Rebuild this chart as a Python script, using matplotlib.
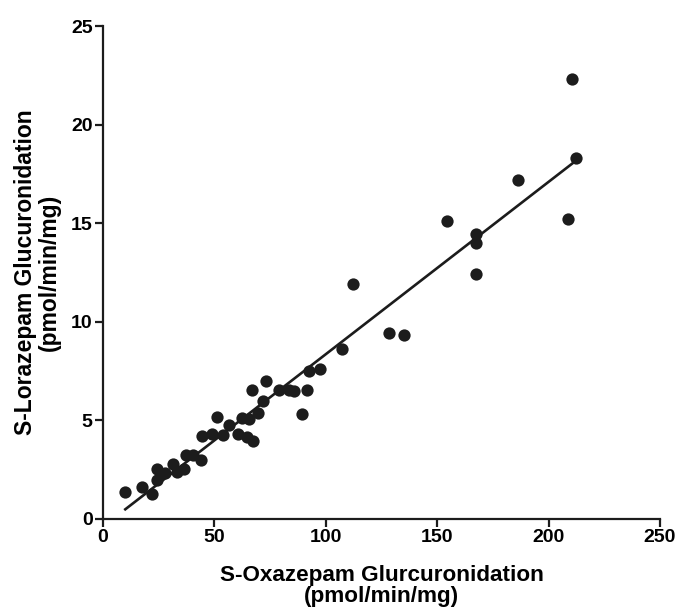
import matplotlib
matplotlib.use('Agg')
import matplotlib.pyplot as plt
import numpy as np

plt.rcParams['font.family'] = ['Liberation Sans', 'DejaVu Sans']
plt.rcParams['font.weight'] = 'bold'

# S-Oxazepam vs S-Lorazepam glucuronidation (pmol/min/mg)
oxazepam = [10.0, 17.6, 22.1, 24.1, 24.4, 27.8, 31.6, 33.1, 36.4, 37.3,
            40.5, 44.0, 44.3, 49.1, 51.3, 54.0, 56.7, 60.4, 62.2, 64.5,
            65.5, 67.5, 66.7, 69.7, 71.9, 73.0, 79.0, 83.3, 85.7, 89.2,
            91.7, 92.6, 97.4, 107.3, 112.3, 128.4, 135.2, 154.4, 167.4, 167.4,
            167.4, 186.4, 208.6, 210.6, 212.4]
lorazepam = [1.35, 1.62, 1.25, 1.98, 2.54, 2.32, 2.79, 2.40, 2.55, 3.25,
             3.25, 2.99, 4.20, 4.31, 5.19, 4.28, 4.77, 4.31, 5.10, 4.18,
             5.06, 3.97, 6.54, 5.36, 6.00, 7.00, 6.54, 6.54, 6.50, 5.32,
             6.54, 7.52, 7.59, 8.60, 11.90, 9.43, 9.35, 15.10, 14.45, 14.00,
             12.40, 17.20, 15.20, 22.30, 18.30]

x = np.array(oxazepam)
y = np.array(lorazepam)
slope, intercept = np.polyfit(x, y, 1)
xfit = np.array([x.min(), x.max()])

fig = plt.figure(figsize=(6.79, 6.09), dpi=100)
ax = fig.add_axes([0.1517, 0.1478, 0.8203, 0.8095])

ax.scatter(x, y, s=78, color='#1c1c1c', zorder=3, linewidths=0)
ax.plot(xfit, slope * xfit + intercept, color='#1c1c1c', lw=1.9, zorder=2)

ax.set_xlim(0, 250)
ax.set_ylim(0, 25)
ax.set_xticks([0, 50, 100, 150, 200, 250])
ax.set_yticks([0, 5, 10, 15, 20, 25])

for side in ['top', 'right']:
    ax.spines[side].set_visible(False)
for side in ['left', 'bottom']:
    ax.spines[side].set_linewidth(1.6)
    ax.spines[side].set_color('#1c1c1c')
ax.tick_params(direction='out', length=5.5, width=1.6, color='#1c1c1c',
               labelsize=14, pad=2)

ax.set_xlabel('S-Oxazepam Glurcuronidation\n(pmol/min/mg)', fontsize=16.2,
              fontweight='bold', labelpad=13.5, linespacing=1.0)
ax.set_ylabel('S-Lorazepam Glucuronidation\n(pmol/min/mg)', fontsize=16.5,
              fontweight='bold', labelpad=7.5, linespacing=1.0)

fig.savefig('out.png', dpi=100)
